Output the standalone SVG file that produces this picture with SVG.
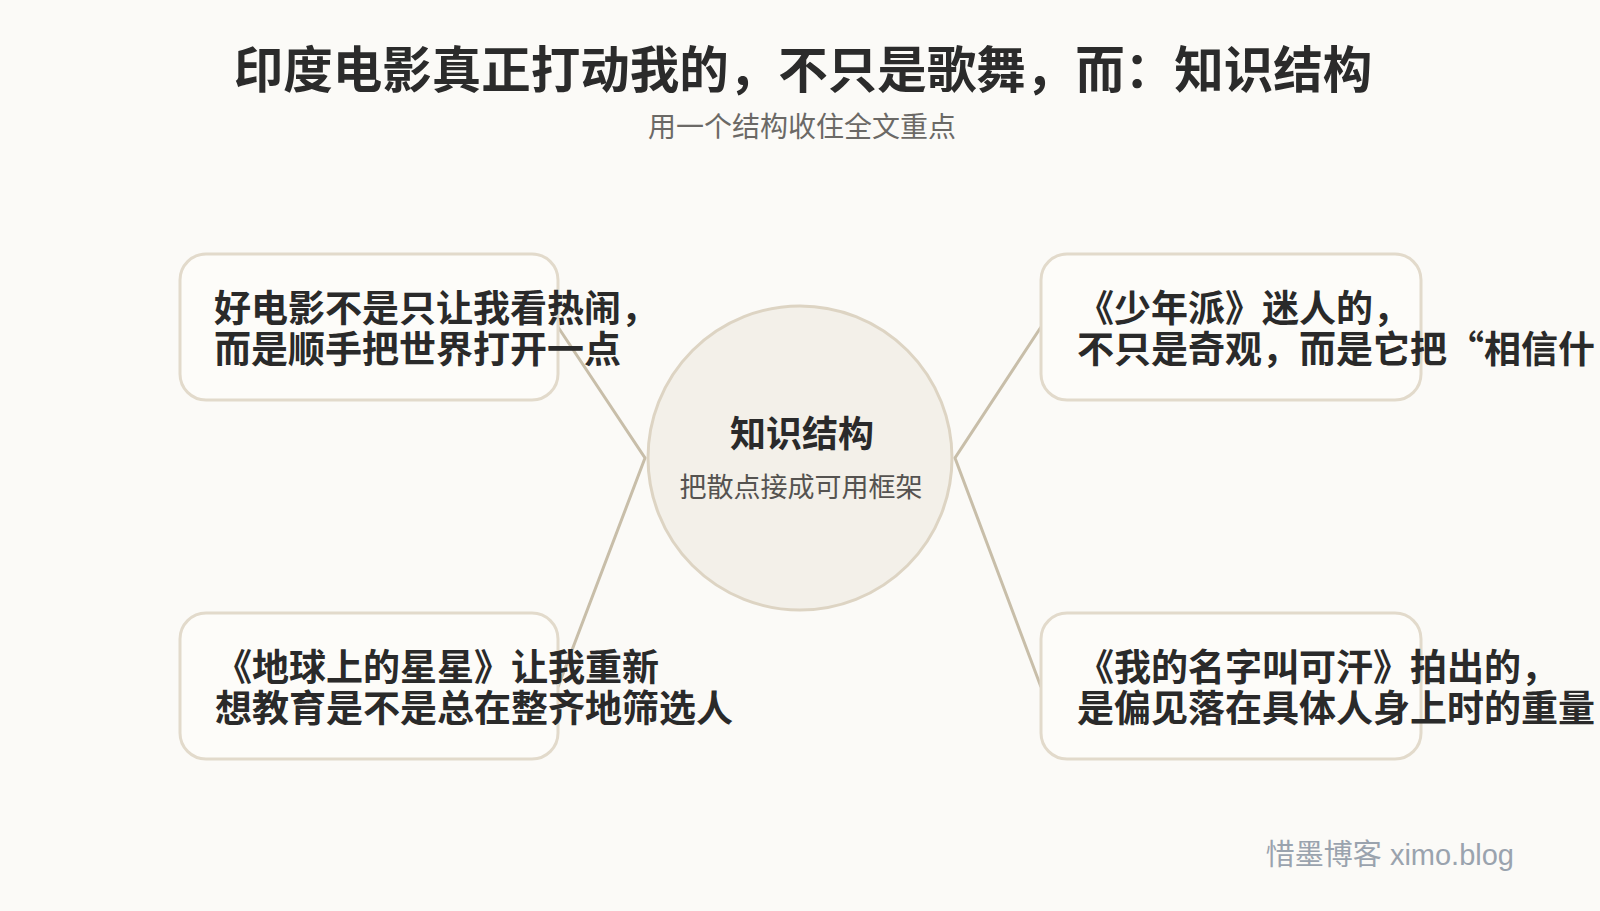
<svg xmlns="http://www.w3.org/2000/svg" width="1600" height="911" viewBox="0 0 1600 911">
<style>
text{font-family:"Noto Sans CJK SC","Noto Sans",sans-serif}
.title{font-size:49.5px;font-weight:700;fill:#2b2b2b}
.sub{font-size:28px;fill:#6b6966}
.box{fill:#fdfcf9;stroke:#e2dacb;stroke-width:3}
.bt{font-size:37px;font-weight:700;fill:#2a2a2a}
.hub{fill:#f3f0e9;stroke:#ddd4c3;stroke-width:3}
.ht{font-size:36px;font-weight:700;fill:#2a2a2a}
.hs{font-size:27px;fill:#555350}
.edge{stroke:#c8bea9;stroke-width:3;fill:none}
.wm{font-size:29px;fill:#9aa3ae;font-family:"Liberation Sans","Noto Sans CJK SC",sans-serif}
</style>
<rect width="1600" height="911" fill="#fbfaf7"/>
<g id="title">
<text class="title" x="803" y="88" text-anchor="middle">印度电影真正打动我的，不只是歌舞，而：知识结构</text>
<text class="sub" x="802" y="137" text-anchor="middle">用一个结构收住全文重点</text>
</g>
<g id="connectors">
<path class="edge" d="M558 327 L645 458 L558 687"/>
<path class="edge" d="M1041 327 L955 458 L1041 687"/>
</g>
<g id="hub">
<circle class="hub" cx="800" cy="458" r="152"/>
<text class="ht" x="802" y="447" text-anchor="middle">知识结构</text>
<text class="hs" x="801" y="497" text-anchor="middle">把散点接成可用框架</text>
</g>
<g id="node-tl">
<rect class="box" x="180" y="254" width="378" height="146" rx="26"/>
<text class="bt" x="214" y="322">好电影不是只让我看热闹，</text>
<text class="bt" x="214" y="363">而是顺手把世界打开一点</text>
</g>
<g id="node-tr">
<rect class="box" x="1041" y="254" width="380" height="146" rx="26"/>
<text class="bt" x="1077" y="322">《少年派》迷人的，</text>
<text class="bt" x="1077" y="363">不只是奇观，而是它把“相信什</text>
</g>
<g id="node-bl">
<rect class="box" x="180" y="613" width="378" height="146" rx="26"/>
<text class="bt" x="215" y="681">《地球上的星星》让我重新</text>
<text class="bt" x="215" y="722">想教育是不是总在整齐地筛选人</text>
</g>
<g id="node-br">
<rect class="box" x="1041" y="613" width="380" height="146" rx="26"/>
<text class="bt" x="1077" y="681">《我的名字叫可汗》拍出的，</text>
<text class="bt" x="1077" y="722">是偏见落在具体人身上时的重量</text>
</g>
<g id="watermark">
<text class="wm" x="1514" y="865" text-anchor="end">惜墨博客 ximo.blog</text>
</g>
</svg>
